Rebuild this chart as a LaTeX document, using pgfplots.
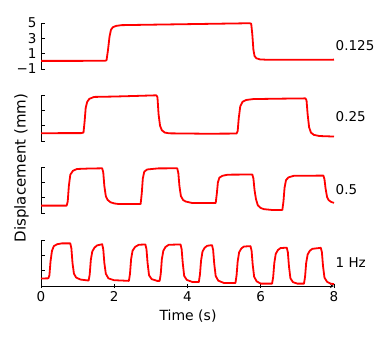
\documentclass[border=0pt]{standalone}
\usepackage{fontspec}
\setmainfont{DejaVu Sans}
\usepackage{pgfplots}
\pgfplotsset{compat=1.18}
\newcommand\fs{\fontsize{13.5}{16}\selectfont}

\pgfplotsset{
  panel/.style={
    width=293pt, height=46pt, scale only axis,
    xmin=0, xmax=8, ymin=-1, ymax=5,
    axis y line=left,
    axis line style={-, black, line width=0.8pt},
    ytick={-1,1,3,5}, yticklabels={},
    tick align=inside, major tick length=4pt,
    tick style={black, line width=0.8pt},
    tick label style={font=\fs},
    yticklabel style={xshift=-1pt},
    clip=false,
  },
  trace/.style={red, line width=1.8pt, line join=round},
}
\tikzset{rlabel/.style={anchor=west, inner sep=0pt, xshift=1.5pt, font=\fs}}

\begin{document}
\begin{tikzpicture}
\path[use as bounding box] (0,0) rectangle (390pt,346pt);

% 0.125 Hz
\begin{axis}[panel, at={(41pt,277pt)}, anchor=south west, hide x axis,
  yticklabels={−1,1,3,5}]
\addplot[trace] coordinates {
(0,0.06)(0.5,0.06)(1.0,0.06)(1.5,0.07)(1.75,0.07)(1.79,0.15)(1.83,1.5)(1.87,3.2)
(1.91,4.1)(1.96,4.45)(2.05,4.62)(2.2,4.72)(3,4.78)(4,4.85)(5,4.92)(5.7,4.97)
(5.74,4.9)(5.77,3.5)(5.80,1.5)(5.83,0.7)(5.88,0.4)(5.98,0.25)(6.2,0.2)(7,0.2)(8,0.22)};
\node[rlabel] at (axis cs:8,2.1) {0.125};
\end{axis}

% 0.25 Hz
\begin{axis}[panel, at={(41pt,205pt)}, anchor=south west, hide x axis]
\addplot[trace] coordinates {
(0,0.02)(1.1,0.03)(1.16,0.1)(1.19,1.5)(1.22,3.3)(1.26,4.1)(1.32,4.5)(1.45,4.75)
(2,4.8)(2.6,4.88)(3.15,4.96)(3.18,4.7)(3.21,2.5)(3.25,1.0)(3.30,0.4)(3.38,0.1)
(3.5,0.0)(4.5,-0.05)(5.34,-0.03)(5.37,0.3)(5.40,2.0)(5.44,3.5)(5.5,4.1)(5.6,4.35)
(5.8,4.47)(6.5,4.52)(7.22,4.56)(7.25,4.3)(7.28,2.5)(7.32,0.8)(7.37,0.1)(7.45,-0.2)
(7.6,-0.35)(8,-0.42)};
\node[rlabel] at (axis cs:8,2.2) {0.25};
\end{axis}

% 0.5 Hz
\begin{axis}[panel, at={(41pt,133pt)}, anchor=south west, hide x axis]
\addplot[trace] coordinates {
(0,-0.04)(0.7,-0.04)(0.73,0.5)(0.76,2.5)(0.80,4.0)(0.87,4.5)(0.98,4.74)(1.3,4.8)
(1.67,4.83)(1.70,4.3)(1.73,2.5)(1.77,1.2)(1.82,0.7)(1.9,0.4)(2.0,0.25)(2.12,0.17)
(2.72,0.18)(2.75,1.5)(2.78,3.5)(2.82,4.4)(2.9,4.68)(3.2,4.82)(3.72,4.83)(3.75,4.2)
(3.78,2.5)(3.82,1.2)(3.88,0.7)(3.95,0.5)(4.13,0.3)(4.77,0.3)(4.80,1.5)(4.83,3.0)
(4.87,3.6)(4.95,3.85)(5.1,4.0)(5.77,4.02)(5.80,3.5)(5.83,2.0)(5.87,0.8)(5.92,0.0)
(6.0,-0.35)(6.09,-0.5)(6.3,-0.6)(6.59,-0.6)(6.62,0.5)(6.65,2.3)(6.69,3.3)(6.76,3.65)
(6.9,3.85)(7.71,3.88)(7.74,3.4)(7.77,2.2)(7.81,1.1)(7.85,0.7)(7.92,0.45)(8,0.32)};
\node[rlabel] at (axis cs:8,2.0) {0.5};
\end{axis}

% 1 Hz
\begin{axis}[panel, at={(41pt,60pt)}, anchor=south west,
  axis x line=bottom, xtick={0,2,4,6,8}, xticklabels={0,2,4,6,8}]
\addplot[trace] coordinates {
(0,-0.02)(0.2,0.0)(0.23,0.4)(0.26,2.2)(0.30,3.6)(0.35,4.2)(0.44,4.45)(0.57,4.56)
(0.80,4.56)(0.83,3.9)(0.86,2.0)(0.90,0.6)(0.96,0.1)(1.08,-0.16)(1.3,-0.29)
(1.33,0.5)(1.36,2.4)(1.40,3.5)(1.46,4.0)(1.53,4.29)(1.67,4.45)(1.70,3.8)(1.73,2.0)
(1.77,0.6)(1.84,0.0)(1.99,-0.24)(2.40,-0.33)(2.43,0.6)(2.46,2.5)(2.50,3.6)(2.57,4.1)
(2.67,4.38)(2.85,4.42)(2.88,3.8)(2.91,2.0)(2.95,0.4)(3.02,-0.1)(3.17,-0.33)(3.24,-0.33)
(3.27,0.6)(3.30,2.5)(3.34,3.6)(3.40,4.1)(3.49,4.38)(3.81,4.42)(3.84,3.8)(3.87,2.0)
(3.91,0.3)(3.98,-0.2)(4.13,-0.47)(4.31,-0.47)(4.34,0.5)(4.37,2.3)(4.41,3.5)(4.47,4.0)
(4.54,4.25)(4.67,4.33)(4.70,3.7)(4.73,1.9)(4.77,0.3)(4.84,-0.3)(4.99,-0.6)(5.31,-0.6)
(5.34,0.4)(5.37,2.2)(5.41,3.4)(5.47,3.9)(5.54,4.15)(5.72,4.2)(5.75,3.6)(5.78,1.8)
(5.82,0.2)(5.89,-0.4)(6.0,-0.69)(6.31,-0.69)(6.34,0.2)(6.37,2.0)(6.41,3.2)(6.47,3.7)
(6.54,3.95)(6.71,4.0)(6.74,3.4)(6.77,1.6)(6.81,0.0)(6.88,-0.5)(7.0,-0.69)(7.18,-0.69)
(7.21,0.2)(7.24,2.0)(7.28,3.1)(7.34,3.6)(7.41,3.85)(7.64,3.98)(7.67,3.4)(7.70,1.6)
(7.74,0.1)(7.81,-0.45)(7.91,-0.69)(8,-0.75)};
\node[rlabel] at (axis cs:8,2.07) {1 Hz};
\end{axis}

\node[font=\fontsize{14}{16}\selectfont] at (188pt,30pt) {Time (s)};
\node[font=\fontsize{15}{18}\selectfont, rotate=90] at (21.5pt,178pt) {Displacement (mm)};
\end{tikzpicture}
\end{document}
